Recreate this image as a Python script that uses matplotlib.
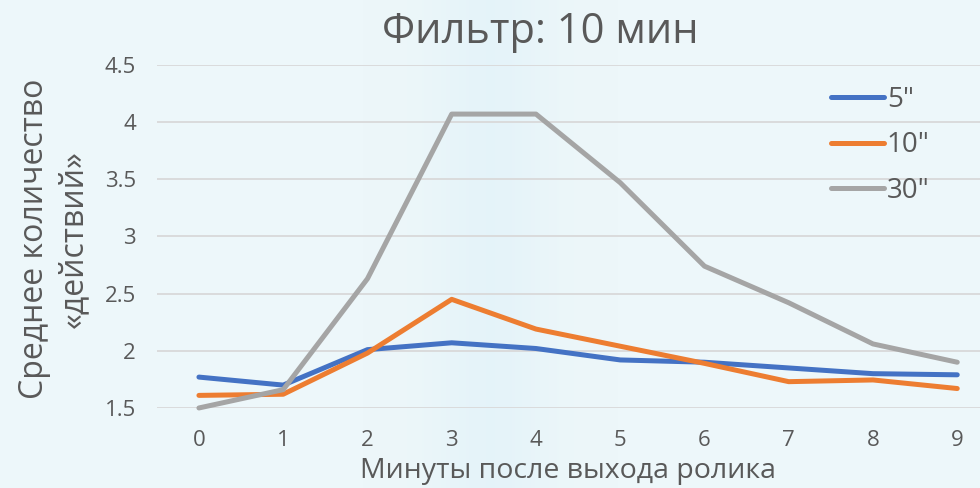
import numpy as np
import matplotlib
matplotlib.use("Agg")
import matplotlib.pyplot as plt

# data
minutes = list(range(10))
s5 = [1.77, 1.70, 2.01, 2.07, 2.02, 1.92, 1.90, 1.85, 1.80, 1.79]
s10 = [1.61, 1.62, 1.98, 2.45, 2.19, 2.04, 1.89, 1.73, 1.745, 1.67]
s30 = [1.50, 1.66, 2.63, 4.07, 4.07, 3.47, 2.74, 2.42, 2.06, 1.90]
series_names = ['5"', '10"', '30"']
colors = ['#4472C4', '#ED7D31', '#A5A5A5']

plt.rcParams['font.family'] = ['Open Sans', 'DejaVu Sans']
text_color = '#595959'

fig = plt.figure(figsize=(9.8, 4.88), dpi=100)
fig.patch.set_facecolor('#EDF7FA')

# faint background band like the slide picture
bg = fig.add_axes([0, 0, 1, 1], zorder=-10)
xx = np.linspace(0, 1, 400)
band = np.exp(-((xx - 0.5) / 0.06) ** 2) * 0.45
img = np.zeros((1, 400, 4))
img[..., 0] = 0.86
img[..., 1] = 0.94
img[..., 2] = 0.98
img[..., 3] = band
bg.imshow(img, aspect='auto', extent=[0, 1, 0, 1])
bg.axis('off')

ax = fig.add_axes([0.160, 0.164, 0.84, 0.703])
ax.set_facecolor('none')

for vals, name, c in zip([s5, s10, s30], series_names, colors):
    ax.plot(minutes, vals, color=c, lw=3.6, label=name, clip_on=False,
            solid_capstyle='round', solid_joinstyle='round', zorder=3)

ax.set_xlim(-0.5, 9.27)
ax.set_ylim(1.5, 4.5)
ax.set_yticks([1.5, 2, 2.5, 3, 3.5, 4, 4.5])
ax.set_yticklabels(['1.5', '2', '2.5', '3', '3.5', '4', '4.5'])
ax.set_xticks(minutes)
ax.grid(axis='y', color='#D9D9D9', lw=1.3)
ax.set_axisbelow(True)
for sp in ax.spines.values():
    sp.set_visible(False)
ax.tick_params(axis='both', length=0, colors=text_color, labelsize=16)
ax.tick_params(axis='y', pad=15)
ax.tick_params(axis='x', pad=16)

ax.set_xlabel('Минуты после выхода ролика', fontsize=20.5, color=text_color, labelpad=4)
fig.text(0.055, 0.51, 'Среднее количество\n«действий»', rotation=90, ha='center',
         va='center', fontsize=23, color=text_color, linespacing=1.25)
fig.text(0.551, 0.935, 'Фильтр: 10 мин', ha='center', va='center', fontsize=30,
         color=text_color)

leg = ax.legend(loc='upper left', bbox_to_anchor=(0.834, 0.853), bbox_transform=fig.transFigure,
                frameon=False, fontsize=20, handlelength=1.9, handletextpad=0.1,
                labelspacing=0.64, borderpad=0)
for t in leg.get_texts():
    t.set_color(text_color)

fig.savefig('out.png', dpi=100, facecolor=fig.get_facecolor())
